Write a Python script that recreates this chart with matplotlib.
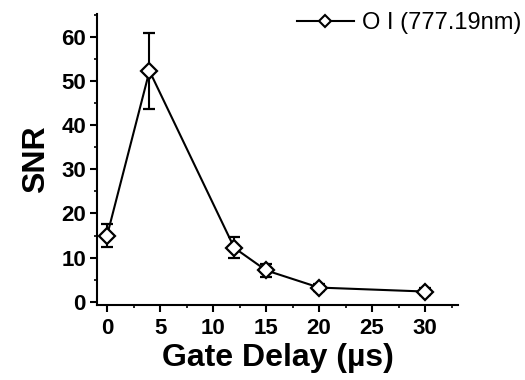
import matplotlib
matplotlib.use('Agg')
import matplotlib.pyplot as plt
from matplotlib.lines import Line2D
from matplotlib.ticker import MultipleLocator

plt.rcParams['font.family'] = ['Liberation Sans', 'DejaVu Sans']

# 数据
gate_delay = [0, 4, 12, 15, 20, 30]
snr = [15.0, 52.3, 12.2, 7.1, 3.2, 2.3]
snr_err = [2.6, 8.7, 2.4, 1.4, 0.7, 0.8]
series_label = 'O I (777.19nm)'

fig = plt.figure(figsize=(5.25, 3.8), dpi=100)
ax = fig.add_axes([97 / 525, 1 - 305 / 380, (458 - 97) / 525, (305 - 14) / 380])

ax.errorbar(gate_delay, snr, yerr=snr_err, color='black', linewidth=1.5,
            marker='D', markersize=8.5, markerfacecolor='white',
            markeredgecolor='black', markeredgewidth=1.6,
            capsize=4.5, capthick=1.5, elinewidth=1.5)

ax.set_xlim(-0.95, 33.1)
ax.set_ylim(-0.75, 65.2)
ax.xaxis.set_major_locator(MultipleLocator(5))
ax.xaxis.set_minor_locator(MultipleLocator(2.5))
ax.yaxis.set_major_locator(MultipleLocator(10))
ax.yaxis.set_minor_locator(MultipleLocator(5))

for side in ['top', 'right']:
    ax.spines[side].set_visible(False)
for side in ['left', 'bottom']:
    ax.spines[side].set_linewidth(1.5)

ax.tick_params(which='major', direction='out', length=5, width=1.5, labelsize=16)
ax.tick_params(axis='x', which='major', pad=4)
ax.tick_params(axis='y', which='major', pad=3)
ax.tick_params(which='minor', direction='out', length=2.5, width=1.2)
for lbl in ax.get_xticklabels() + ax.get_yticklabels():
    lbl.set_fontweight('bold')

ax.set_xlabel('Gate Delay (µs)', fontsize=23, fontweight='bold', labelpad=3)
ax.set_ylabel('SNR', fontsize=23, fontweight='bold', labelpad=7)

# 图例（不带误差棒）
handle = Line2D([], [], color='black', linewidth=1.5, marker='D', markersize=6,
                markerfacecolor='white', markeredgecolor='black', markeredgewidth=1.5)
fig.legend([handle], [series_label], loc='center left',
           bbox_to_anchor=(297 / 525, 1 - 23 / 380), frameon=False,
           fontsize=17, handlelength=2.4, handletextpad=0.35,
           borderpad=0, borderaxespad=0)

fig.savefig('out.png', dpi=100)
